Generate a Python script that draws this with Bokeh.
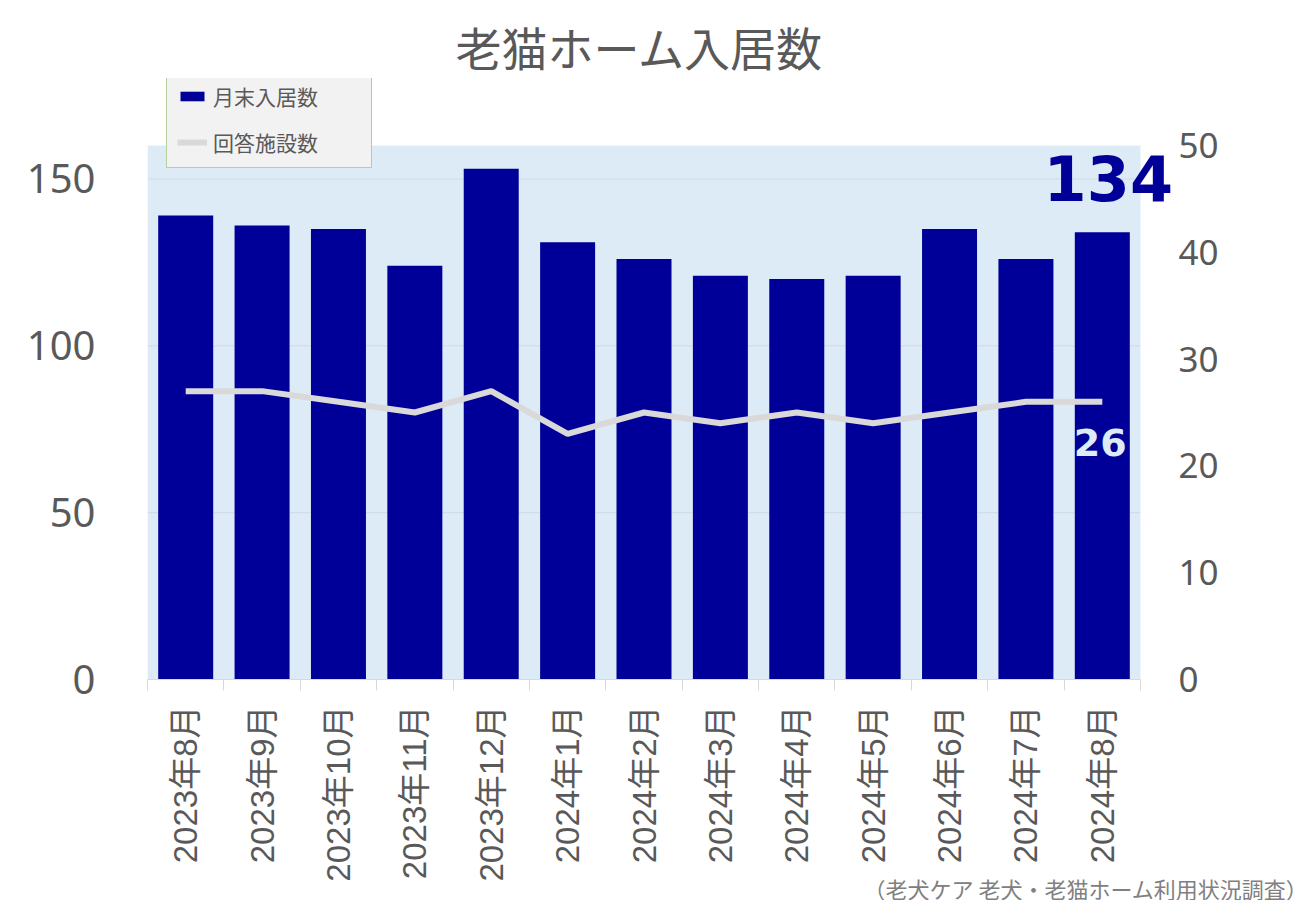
from math import pi
from bokeh.plotting import figure
from bokeh.models import (Range1d, LinearAxis, FixedTicker, Legend, LegendItem,
                          Label, Title, BoxAnnotation, ColumnDataSource)
from bokeh.embed import file_html
from bokeh.resources import INLINE

months = ["2023年8月", "2023年9月", "2023年10月", "2023年11月", "2023年12月",
          "2024年1月", "2024年2月", "2024年3月", "2024年4月", "2024年5月",
          "2024年6月", "2024年7月", "2024年8月"]
residents = [139, 136, 135, 124, 153, 131, 126, 121, 120, 121, 135, 126, 134]
facilities = [27, 27, 26, 25, 27, 23, 25, 24, 25, 24, 25, 26, 26]
left_ticks = [0, 50, 100, 150]
right_ticks = [0, 10, 20, 30, 40, 50]
left_max = 160
right_max = 50
title_text = "老猫ホーム入居数"
source_text = "（老犬ケア 老犬・老猫ホーム利用状況調査）"
bar_label = "月末入居数"
line_label = "回答施設数"

# ---- layout constants (pixels) ----
W, H = 1300, 900
B_LEFT, B_TOP, B_BOTTOM = 147, 78, 221
AREA_RIGHT = 1140          # right edge of the shaded plot area
FRAME_RIGHT = 1172         # frame extends a little to hold the "134" label
AREA_TOP = 145             # top edge of the shaded plot area

frame_h = H - B_TOP - B_BOTTOM
area_h = H - B_BOTTOM - AREA_TOP
n = len(months)
unit_px = (AREA_RIGHT - B_LEFT) / n
x_end = n + 0.5 + (FRAME_RIGHT - AREA_RIGHT) / unit_px
y_top = left_max * frame_h / area_h
y2_top = right_max * frame_h / area_h

xs = list(range(1, n + 1))
src = ColumnDataSource(dict(x=xs, res=residents, fac=facilities))

GRAY = "#595959"
JP = "'Noto Sans CJK JP'"

p = figure(width=W, height=H, output_backend="svg", toolbar_location=None,
           x_range=Range1d(0.5, x_end), y_range=Range1d(0, y_top),
           min_border_left=B_LEFT, min_border_right=W - FRAME_RIGHT,
           min_border_top=B_TOP, min_border_bottom=B_BOTTOM,
           background_fill_color="white", border_fill_color="white",
           outline_line_color=None)
p.extra_y_ranges = {"fac": Range1d(0, y2_top)}

# shaded plot area
p.add_layout(BoxAnnotation(left=0.5, right=n + 0.5, bottom=0, top=left_max,
                           fill_color="#DDEBF7", fill_alpha=1, line_color=None,
                           level="image"))

# grid lines limited to the plot area
p.xgrid.visible = False
p.ygrid.visible = False
p.segment(x0=[0.5] * len(left_ticks[1:]), x1=[n + 0.5] * len(left_ticks[1:]),
          y0=left_ticks[1:], y1=left_ticks[1:], line_color="#C8D4E0",
          line_alpha=0.7, line_width=1, level="underlay")

bars = p.vbar(x="x", top="res", width=0.72, source=src,
              fill_color="#000099", line_color=None)
line = p.line(x="x", y="fac", source=src, y_range_name="fac",
              line_color="#D9D9D9", line_width=6)

# x axis
xa = p.xaxis[0]
xa.bounds = (0.5, n + 0.5)
xa.ticker = FixedTicker(ticks=xs, minor_ticks=[x - 0.5 for x in xs] + [n + 0.5])
xa.major_label_overrides = {x: m for x, m in zip(xs, months)}
xa.major_label_orientation = pi / 2
xa.major_tick_line_color = None
xa.major_tick_out = 0
xa.major_tick_in = 0
xa.minor_tick_in = 0
xa.minor_tick_out = 11
xa.minor_tick_line_color = "#D9D9D9"
xa.axis_line_color = "#D9D9D9"
xa.major_label_standoff = 15
xa.major_label_text_font = "'Liberation Sans', " + JP
xa.major_label_text_font_size = "33px"
xa.major_label_text_color = GRAY

# left axis
ya = p.yaxis[0]
ya.ticker = FixedTicker(ticks=left_ticks)
ya.axis_line_color = None
ya.major_tick_line_color = None
ya.minor_tick_line_color = None
ya.major_label_standoff = 46
ya.major_label_text_font = "'Noto Sans'"
ya.major_label_text_font_size = "40px"
ya.major_label_text_color = GRAY

# right axis
ra = LinearAxis(y_range_name="fac", ticker=FixedTicker(ticks=right_ticks))
ra.axis_line_color = None
ra.major_tick_line_color = None
ra.minor_tick_line_color = None
ra.major_label_standoff = 0
ra.major_label_text_font = "'Noto Sans'"
ra.major_label_text_font_size = "35px"
ra.major_label_text_color = GRAY
p.add_layout(ra, "right")

legend = Legend(items=[LegendItem(label=bar_label, renderers=[bars]),
                       LegendItem(label=line_label, renderers=[line])],
                location=(19, 511), orientation="vertical",
                padding=10, margin=0, spacing=16,
                glyph_width=30, glyph_height=12, label_height=24,
                label_width=148, label_standoff=6,
                label_text_font=JP, label_text_font_size="21px",
                label_text_color=GRAY,
                background_fill_color="#F2F2F2", background_fill_alpha=1,
                border_line_color="#70AD47", border_line_width=1.5)
p.add_layout(legend, "center")

# title (above) and source note (below)
p.title = Title(text=title_text, align="left", offset=308, standoff=0,
                text_font=JP, text_font_size="46px", text_font_style="normal",
                text_color=GRAY)
p.add_layout(Title(text=source_text, align="right", offset=-136, standoff=-38,
                   text_line_height=1.0,
                   text_font=JP, text_font_size="22px", text_font_style="normal",
                   text_color="#808080"), "below")

p.add_layout(Label(x=xs[-1], y=residents[-1], text=str(residents[-1]),
                   text_font="'DejaVu Sans'", text_font_style="bold",
                   text_font_size="62px", text_color="#000099",
                   text_align="center", text_baseline="alphabetic",
                   x_offset=6, y_offset=54))

p.add_layout(Label(x=xs[-1], y=facilities[-1], y_range_name="fac",
                   text=str(facilities[-1]),
                   text_font="'DejaVu Sans'", text_font_style="bold",
                   text_font_size="38px", text_color="#DDEBF7",
                   text_align="center", text_baseline="alphabetic",
                   x_offset=-2, y_offset=-41))

open("out.html", "w").write(file_html(p, INLINE))
